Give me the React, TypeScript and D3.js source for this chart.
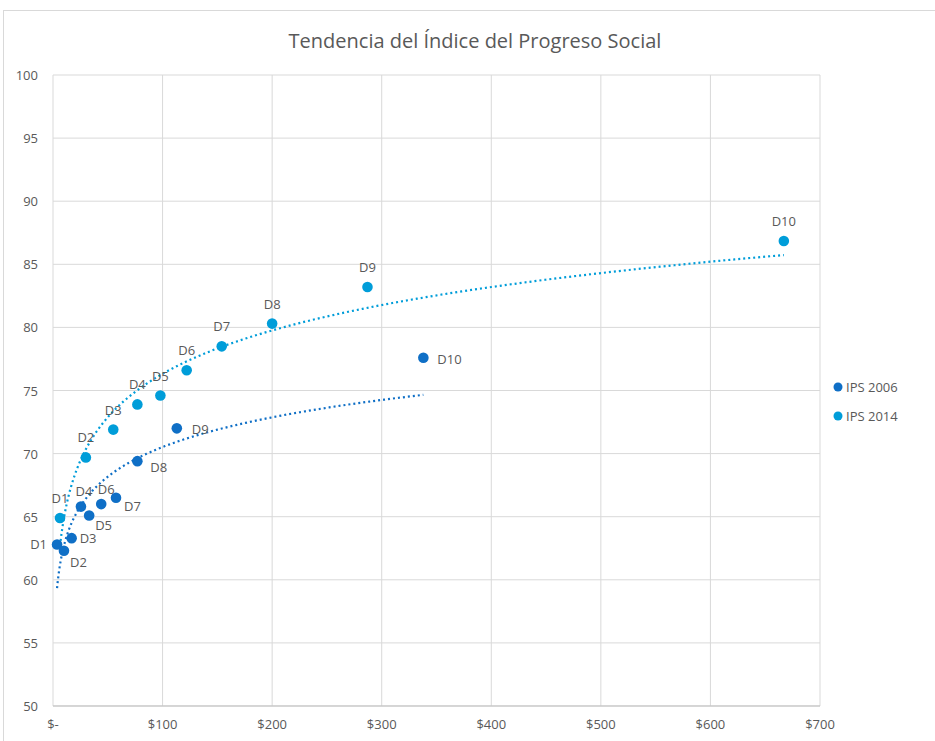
import React from "react";
import * as d3 from "d3";

const labels = ["D1", "D2", "D3", "D4", "D5", "D6", "D7", "D8", "D9", "D10"];
const x2006 = [3.7, 10, 17, 25.5, 33, 44, 57.5, 77, 113, 338];
const y2006 = [62.8, 62.3, 63.3, 65.8, 65.1, 66.0, 66.5, 69.4, 72.0, 77.6];
const x2014 = [6.4, 30, 55, 77, 98, 122, 154, 200, 287, 667];
const y2014 = [64.9, 69.7, 71.9, 73.9, 74.6, 76.6, 78.5, 80.3, 83.2, 86.85];
const seriesNames = ["IPS 2006", "IPS 2014"];
const xTicks = [0, 100, 200, 300, 400, 500, 600, 700];
const yTicks = [50, 55, 60, 65, 70, 75, 80, 85, 90, 95, 100];
const title = "Tendencia del Índice del Progreso Social";

// label placement (style): offsets relative to point
const lab2006 = [
  { dx: -10, dy: 5, anchor: "end" },
  { dx: 6, dy: 16, anchor: "start" },
  { dx: 8, dy: 5, anchor: "start" },
  { dx: 3, dy: -11, anchor: "middle" },
  { dx: 6, dy: 15, anchor: "start" },
  { dx: 5, dy: -10, anchor: "middle" },
  { dx: 8, dy: 13, anchor: "start" },
  { dx: 13, dy: 11, anchor: "start" },
  { dx: 15, dy: 6, anchor: "start" },
  { dx: 14, dy: 6, anchor: "start" },
];

const C2006 = "#0F6FC6";
const C2014 = "#009DD9";
const TXT = "#595959";
const GRID = "#d9d9d9";
const FONT = "'Open Sans', 'Noto Sans', sans-serif";

function logFit(xs: number[], ys: number[]) {
  const lx = xs.map(Math.log);
  const mx = d3.mean(lx)!;
  const my = d3.mean(ys)!;
  let sxy = 0, sxx = 0;
  lx.forEach((v, i) => {
    sxy += (v - mx) * (ys[i] - my);
    sxx += (v - mx) * (v - mx);
  });
  const b = sxy / sxx;
  const a = my - b * mx;
  return (x: number) => a + b * Math.log(x);
}

export default function App() {
  const W = 935, H = 741;
  const x = d3.scaleLinear().domain([0, 700]).range([53, 820]);
  const y = d3.scaleLinear().domain([50, 100]).range([706, 75]);

  const trend = (xs: number[], ys: number[]) => {
    const f = logFit(xs, ys);
    const [lo, hi] = d3.extent(xs) as [number, number];
    const pts = d3.range(0, 201).map((i) => {
      const v = Math.exp(Math.log(lo) + (Math.log(hi) - Math.log(lo)) * (i / 200));
      return [v, f(v)] as [number, number];
    });
    return d3.line<[number, number]>().x((d) => x(d[0])).y((d) => y(d[1])).curve(d3.curveLinear)(pts)!;
  };

  return (
    <svg width={W} height={H} style={{ position: "absolute", left: 0, top: 0, fontFamily: FONT }}>
      <rect x={0} y={0} width={W} height={H} fill="#fff" />
      <rect x={3.5} y={10.5} width={W + 10} height={H + 10} fill="#fff" stroke={GRID} />
      <text x={475} y={48} textAnchor="middle" fontSize={20} fill={TXT}>{title}</text>

      {yTicks.map((t) => (
        <g key={"y" + t}>
          <line x1={53} x2={820} y1={y(t)} y2={y(t)} stroke={GRID} strokeWidth={1} />
          <text x={38} y={y(t) + 5} textAnchor="end" fontSize={13} fill={TXT}>{t}</text>
        </g>
      ))}
      {xTicks.map((t) => (
        <g key={"x" + t}>
          <line x1={x(t)} x2={x(t)} y1={75} y2={706} stroke={GRID} strokeWidth={1} />
          <text x={x(t)} y={729} textAnchor="middle" fontSize={13} fill={TXT}>
            {t === 0 ? "$-" : "$" + t}
          </text>
        </g>
      ))}
      <line x1={53} x2={820} y1={706} y2={706} stroke="#bfbfbf" />

      <path d={trend(x2006, y2006)} fill="none" stroke={C2006} strokeWidth={2.2} strokeDasharray="2 3" />
      <path d={trend(x2014, y2014)} fill="none" stroke={C2014} strokeWidth={2.2} strokeDasharray="2 3" />

      {x2006.map((v, i) => (
        <circle key={"a" + i} cx={x(v)} cy={y(y2006[i])} r={5.3} fill={C2006} />
      ))}
      {x2014.map((v, i) => (
        <circle key={"b" + i} cx={x(v)} cy={y(y2014[i])} r={5.3} fill={C2014} />
      ))}

      {x2014.map((v, i) => (
        <text key={"lb" + i} x={x(v)} y={y(y2014[i]) - 15} textAnchor="middle" fontSize={13} fill={TXT}>
          {labels[i]}
        </text>
      ))}
      {x2006.map((v, i) => (
        <text key={"la" + i} x={x(v) + lab2006[i].dx} y={y(y2006[i]) + lab2006[i].dy}
          textAnchor={lab2006[i].anchor as any} fontSize={13} fill={TXT}>
          {labels[i]}
        </text>
      ))}

      {seriesNames.map((n, i) => (
        <g key={n}>
          <circle cx={838} cy={387 + i * 29} r={4.5} fill={i === 0 ? C2006 : C2014} />
          <text x={846} y={392 + i * 29} fontSize={13} fill={TXT}>{n}</text>
        </g>
      ))}
    </svg>
  );
}
